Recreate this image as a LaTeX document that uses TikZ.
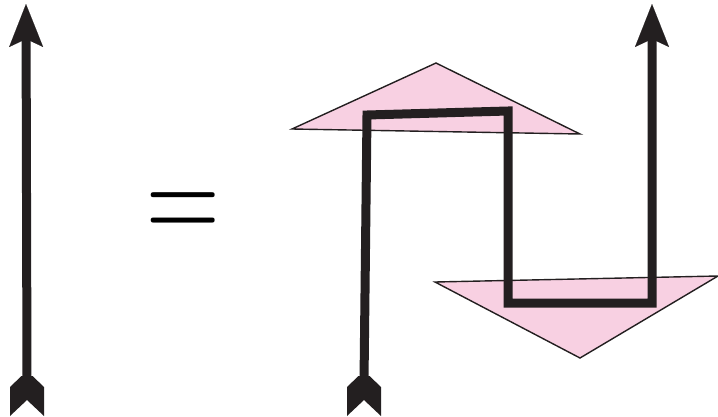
\documentclass[tikz,border=0pt]{standalone}
\usepackage{tikz}
\usetikzlibrary{calc,arrows.meta}
\definecolor{inkblack}{RGB}{35,31,32}
\definecolor{blush}{RGB}{248,208,226}
\tikzset{
  strand/.style={line width=9pt,draw=inkblack,line join=miter,
    -{Stealth[length=43pt,width=34pt,inset=8pt,line width=0.1pt]}},
  wedge/.style={fill=blush,draw=inkblack,line width=1.4pt,line join=miter},
  feather/.pic={\fill[inkblack] (-5.5,0) -- (-17,11) -- (-17,40) -- (0,24)
    -- (17,40) -- (17,11) -- (5.5,0) -- cycle;}
}

\begin{document}
\begin{tikzpicture}[x=1pt,y=-1pt]
\useasboundingbox (0,0) rectangle (718,416);
% plain strand on the left
\coordinate (ltail) at (27,376);
\coordinate (lhead) at (26,4);
\pic at (ltail) {feather};
\draw[strand] ($(ltail)+(0,6)$) -- (lhead);
% equals sign
\node[font=\fontsize{102}{102}\selectfont,inner sep=0pt,anchor=base,
  yscale=1.4,transform shape] (eq) at (183,243) {=};
% upper and lower triangles
\draw[wedge] (292,129) -- (436,63) -- (580,134) -- cycle;
\draw[wedge] (435,282) -- (718,276) -- (580,358) -- cycle;
% folded strand on the right
\coordinate (rtail) at (364,376);
\coordinate (c1) at (367,115);
\coordinate (c2) at (508,111);
\coordinate (c3) at (508,303);
\coordinate (c4) at (652,303);
\coordinate (rhead) at (652,4);
\pic at (rtail) {feather};
\draw[strand] ($(rtail)+(0,6)$) -- (c1) -- (c2) -- (c3) -- (c4) -- (rhead);
\end{tikzpicture}
\end{document}
